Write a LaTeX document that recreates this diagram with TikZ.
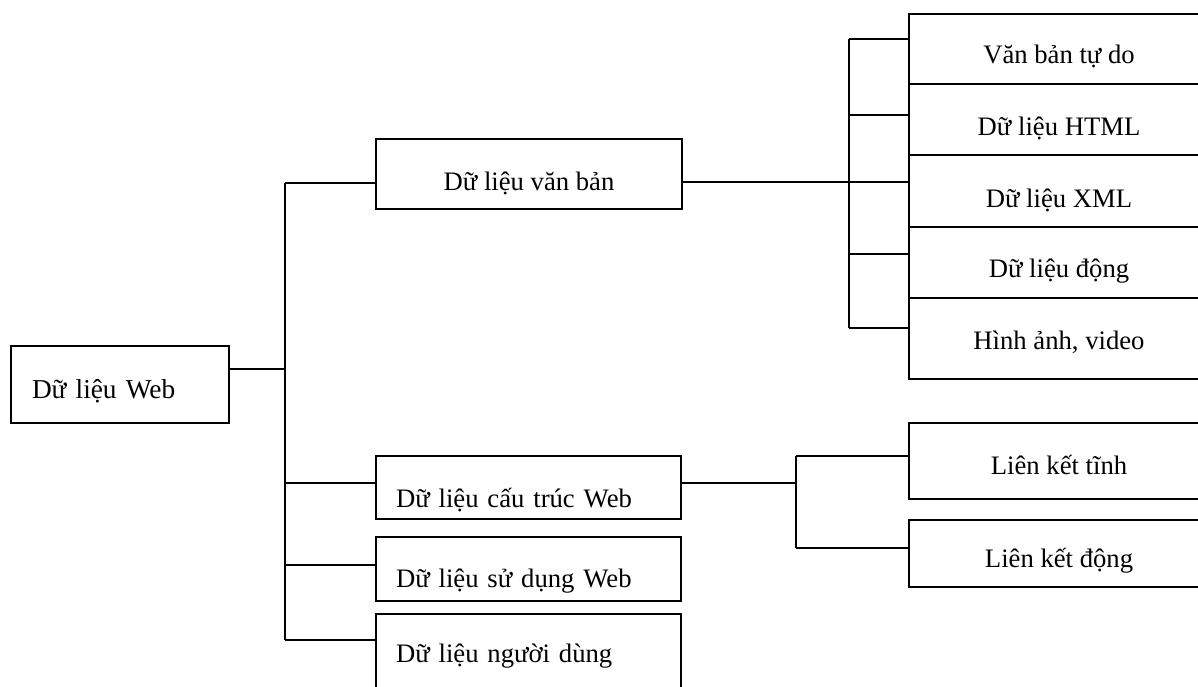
\documentclass[tikz,border=0pt]{standalone}
\usepackage{fontspec}
\setmainfont{Liberation Serif}
\begin{document}
\begin{tikzpicture}[x=0.75pt,y=-0.75pt,
  box/.style={draw, line width=1.4pt, rectangle, anchor=north west,
    inner ysep=0pt, outer sep=0pt, font=\fontsize{20pt}{24pt}\selectfont},
  cbox/.style={box, inner xsep=0pt, align=center},
  lbox/.style={box, inner xsep=15pt, align=left},
  wide/.style={cbox, minimum width=225pt},
  link/.style={line width=1.4pt}]
\useasboundingbox (0,0) rectangle (1198,686);
\clip (0,0) rectangle (1198,686);

% root
\node[lbox, text width=132pt, inner xsep=15.75pt, text height=39pt, text depth=18.75pt,
  font=\fontsize{20.5pt}{24pt}\selectfont] (web) at (11,346) {Dữ liệu Web};

% second level
\node[cbox, minimum width=229.5pt, text height=38.25pt, text depth=14.25pt] (vb) at (376,139) {Dữ liệu văn bản};
\node[lbox, text width=198.75pt, text height=38.25pt, text depth=9pt] (ct) at (376,456) {Dữ liệu cấu trúc Web};
\node[lbox, text width=198.75pt, text height=37.5pt, text depth=10.5pt] (sd) at (376,537) {Dữ liệu sử dụng Web};
\node[lbox, text width=198.75pt, text height=36pt, text depth=28.5pt] (nd) at (376,614) {Dữ liệu người dùng};

% kinds of text data
\node[wide, text height=36.75pt, text depth=15.75pt] (r1) at (909,14) {Văn bản tự do};
\node[wide, text height=38.25pt, text depth=15pt] (r2) at (909,84) {Dữ liệu HTML};
\node[wide, text height=39pt, text depth=15pt] (r3) at (909,155) {Dữ liệu XML};
\node[wide, text height=37.5pt, text depth=15.75pt] (r4) at (909,227) {Dữ liệu động};
\node[wide, text height=38.25pt, text depth=22.5pt] (r5) at (909,298) {Hình ảnh, video};

% kinds of links
\node[wide, text height=38.25pt, text depth=18.75pt] (lk1) at (909,423) {Liên kết tĩnh};
\node[wide, text height=35.25pt, text depth=15pt] (lk2) at (909,520) {Liên kết động};

% trunk from the root
\coordinate (jW) at (285,369);
\coordinate (jV) at (285,183);
\coordinate (jC) at (285,483);
\coordinate (jS) at (285,565);
\coordinate (jN) at (285,640);
\draw[link] (jV) -- (jN);
\draw[link] (web.east |- jW) -- (jW);
\draw[link] (jV) -- (vb.west |- jV);
\draw[link] (jC) -- (ct.west |- jC);
\draw[link] (jS) -- (sd.west |- jS);
\draw[link] (jN) -- (nd.west |- jN);

% bracket for text data
\coordinate (bT) at (849,39);
\coordinate (b2) at (849,115);
\coordinate (bM) at (849,182);
\coordinate (b4) at (849,254);
\coordinate (bB) at (849,328);
\draw[link] (vb.east |- bM) -- (bM);
\draw[link] (bT) -- (bB);
\draw[link] (bT) -- (r1.west |- bT);
\draw[link] (b2) -- (r2.west |- b2);
\draw[link] (bM) -- (r3.west |- bM);
\draw[link] (b4) -- (r4.west |- b4);
\draw[link] (bB) -- (r5.west |- bB);

% bracket for links
\coordinate (cT) at (796,456);
\coordinate (cM) at (796,483);
\coordinate (cB) at (796,548);
\draw[link] (ct.east |- cM) -- (cM);
\draw[link] (cT) -- (cB);
\draw[link] (cT) -- (lk1.west |- cT);
\draw[link] (cB) -- (lk2.west |- cB);
\end{tikzpicture}
\end{document}
